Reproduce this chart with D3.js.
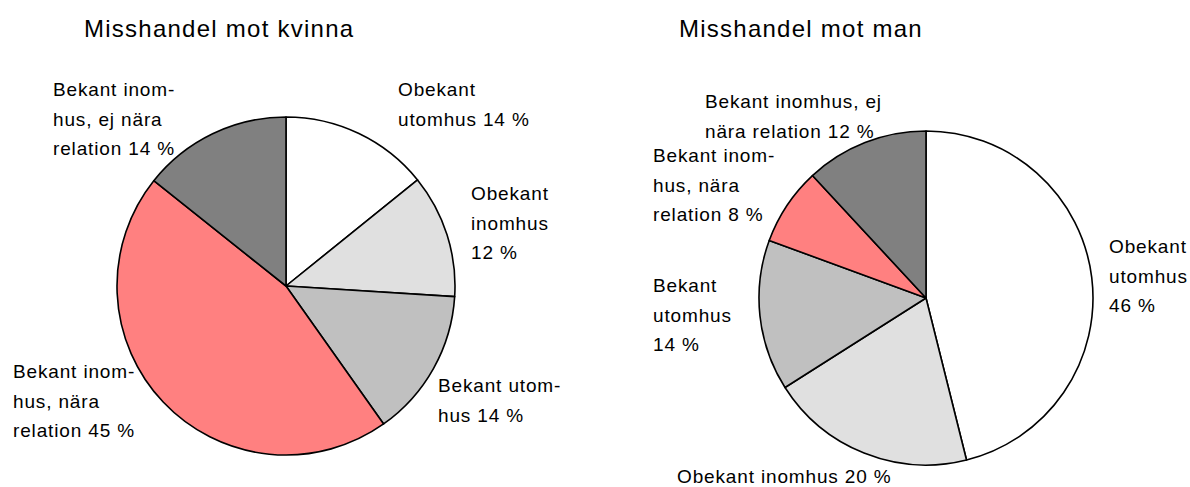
<!DOCTYPE html>
<html>
<head>
<meta charset="utf-8">
<script src="https://cdn.jsdelivr.net/npm/d3@7"></script>
<style>
  html, body { margin: 0; padding: 0; background: #ffffff; }
  svg { display: block; }
  text { font-family: "Liberation Sans", Arial, sans-serif; fill: #000; }
</style>
</head>
<body>
<svg id="chart" width="1190" height="487"></svg>
<script>
// ---- Data ----
const titles = ["Misshandel mot kvinna", "Misshandel mot man"];
const categories = [
  "Obekant utomhus",
  "Obekant inomhus",
  "Bekant utomhus",
  "Bekant inomhus, nära relation",
  "Bekant inomhus, ej nära relation"
];
const valuesKvinna = [14.2, 11.8, 14.2, 45.5, 14.3];
const valuesMan = [46.1, 19.9, 14.6, 7.5, 11.9];
const labelsKvinna = [
  ["Obekant", "utomhus 14 %"],
  ["Obekant", "inomhus", "12 %"],
  ["Bekant utom-", "hus 14 %"],
  ["Bekant inom-", "hus, nära", "relation 45 %"],
  ["Bekant inom-", "hus, ej nära", "relation 14 %"]
];
const labelsMan = [
  ["Obekant", "utomhus", "46 %"],
  ["Obekant inomhus 20 %"],
  ["Bekant", "utomhus", "14 %"],
  ["Bekant inom-", "hus, nära", "relation 8 %"],
  ["Bekant inomhus, ej", "nära relation 12 %"]
];
const colors = ["#ffffff", "#e0e0e0", "#c0c0c0", "#ff8080", "#808080"];

// ---- Layout (positions only) ----
const layouts = [
  {
    cx: 286, cy: 286, r: 169, title: [84, 37],
    labelPos: [[398, 96], [471, 200], [438, 392], [13, 378], [53, 96]]
  },
  {
    cx: 926, cy: 298, r: 167, title: [679, 37],
    labelPos: [[1109, 253], [677, 483], [653, 292], [653, 162], [705, 108]]
  }
];
const lineH = 29.5;

const svg = d3.select("#chart");
const color = d3.scaleOrdinal().domain(categories).range(colors);
const pie = d3.pie().sort(null).value(d => d.value).startAngle(0).endAngle(2 * Math.PI);

function drawPie(values, labels, title, L) {
  const data = categories.map((c, i) => ({ cat: c, value: values[i], label: labels[i] }));
  const arc = d3.arc().innerRadius(0).outerRadius(L.r);
  const g = svg.append("g").attr("transform", `translate(${L.cx},${L.cy})`);
  g.selectAll("path").data(pie(data)).join("path")
    .attr("d", arc)
    .attr("fill", d => color(d.data.cat))
    .attr("stroke", "#000")
    .attr("stroke-width", 1.6)
    .attr("stroke-linejoin", "round");

  svg.append("text")
    .attr("x", L.title[0]).attr("y", L.title[1])
    .style("font-size", "24px")
    .style("letter-spacing", "1.25px")
    .text(title);

  data.forEach((d, i) => {
    const [x, y] = L.labelPos[i];
    const t = svg.append("text").style("font-size", "19px").style("letter-spacing", "0.85px");
    d.label.forEach((line, k) => {
      t.append("tspan").attr("x", x).attr("y", y + k * lineH).text(line);
    });
  });
}

drawPie(valuesKvinna, labelsKvinna, titles[0], layouts[0]);
drawPie(valuesMan, labelsMan, titles[1], layouts[1]);
</script>
</body>
</html>
